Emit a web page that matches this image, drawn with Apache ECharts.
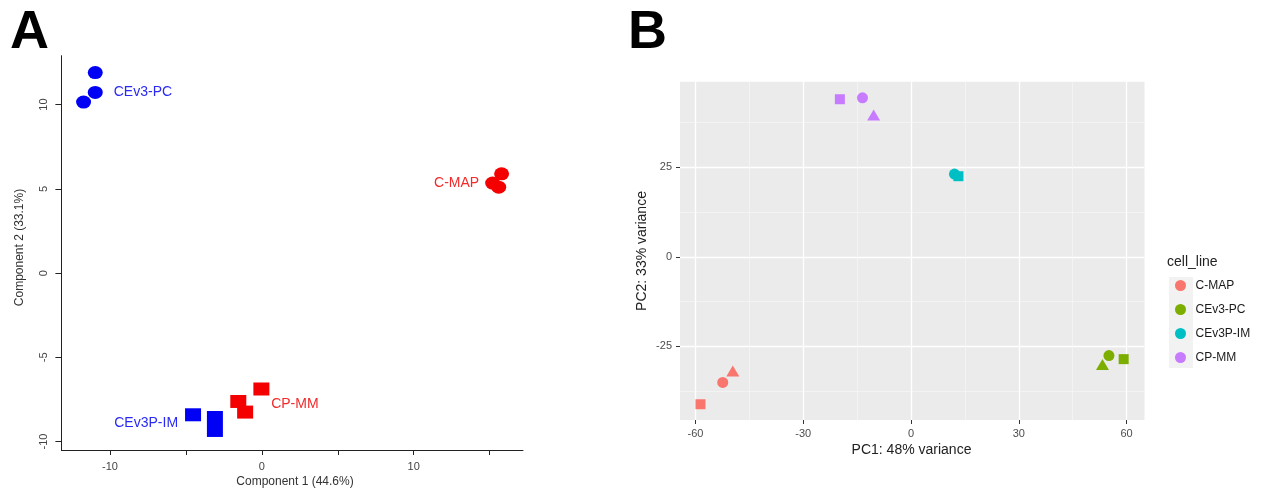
<!DOCTYPE html>
<html><head><meta charset="utf-8">
<script src="https://cdn.jsdelivr.net/npm/echarts@6/dist/echarts.min.js"></script>
<style>html,body{margin:0;padding:0;background:#fff}#c{width:1261px;height:489px}</style>
</head><body><div id="c"></div>
<script>
// ---------- Panel A data (Component 1 / Component 2) ----------
const aNames = ['CEv3-PC', 'C-MAP', 'CP-MM', 'CEv3P-IM'];
const aCevPcX = [-10.97, -10.97, -11.74];
const aCevPcY = [11.9, 10.72, 10.15];
const aCmapX = [15.79, 15.2, 15.6];
const aCmapY = [5.89, 5.34, 5.1];
const aCpmmX = [-0.03, -1.55, -1.1];
const aCpmmY = [-6.88, -7.62, -8.25];
const aCevPimX = [-4.53, -3.09, -3.09];
const aCevPimY = [-8.41, -8.57, -9.34];
const aXTicks = [-10, -5, 0, 5, 10, 15];
const aXLabels = [-10, 0, 10];
const aYTicks = [-10, -5, 0, 5, 10];

// ---------- Panel B data (PC1 / PC2) ----------
const bNames = ['C-MAP', 'CEv3-PC', 'CEv3P-IM', 'CP-MM'];
const bCmapX = [-58.6, -52.4, -49.6];
const bCmapY = [-41.2, -35.1, -31.9];
const bCmapShape = ['rect', 'circle', 'triangle'];
const bCevPcX = [55.1, 59.2, 53.3];
const bCevPcY = [-27.6, -28.6, -30.1];
const bCevPcShape = ['circle', 'rect', 'triangle'];
const bCevPimX = [12.1, 13.2];
const bCevPimY = [23.1, 22.5];
const bCevPimShape = ['circle', 'rect'];
const bCpmmX = [-19.8, -13.5, -10.4];
const bCpmmY = [44.0, 44.4, 39.6];
const bCpmmShape = ['rect', 'circle', 'triangle'];
const bXTicks = [-60, -30, 0, 30, 60];
const bXMinor = [-45, -15, 15, 45];
const bYTicks = [-25, 0, 25];
const bYMinor = [-37.5, -12.5, 12.5, 37.5];

const FONT = '"Liberation Sans", Arial, sans-serif';
const BLUE = '#0000F5', RED = '#F50000';
const bColors = ['#F8766D', '#7CAE00', '#00BFC4', '#C77CFF'];

function zip(xs, ys) { return xs.map((x, i) => [x, ys[i]]); }

// panel A series with a group label attached to one point
function aSeries(name, xs, ys, color, symbol, size, labelIdx, labelCfg) {
  const data = zip(xs, ys).map((v, i) => {
    const item = { value: v };
    if (i === labelIdx) {
      item.label = Object.assign({
        show: true, formatter: name, color: color,
        fontFamily: FONT, fontSize: 14
      }, labelCfg);
    }
    return item;
  });
  return {
    name: 'A ' + name, type: 'scatter', xAxisIndex: 0, yAxisIndex: 0,
    symbol: symbol, symbolSize: size, itemStyle: { color: color, opacity: 1 },
    data: data, silent: true
  };
}

function bSize(shape) {
  if (shape === 'circle') return 11;
  if (shape === 'rect') return 10;
  return [13, 11];
}
function bSeries(name, xs, ys, shapes, color) {
  return {
    name: name, type: 'scatter', xAxisIndex: 1, yAxisIndex: 1,
    symbol: 'circle',
    itemStyle: { color: color, opacity: 1 },
    data: zip(xs, ys).map((v, i) => ({ value: v, symbol: shapes[i], symbolSize: bSize(shapes[i]) })),
    silent: true
  };
}

const chart = echarts.init(document.getElementById('c'), null, { renderer: 'canvas' });

const axisA = '#222';
const option = {
  animation: false,
  backgroundColor: '#fff',
  textStyle: { fontFamily: FONT },
  grid: [
    { left: 61.4, top: 55.7, width: 461.6, height: 394.3, containLabel: false, outerBoundsMode: 'none' },
    { left: 680, top: 81.7, width: 464.5, height: 338.3, containLabel: false, outerBoundsMode: 'none',
      show: true, backgroundColor: '#EBEBEB', borderWidth: 0 }
  ],
  xAxis: [
    { type: 'value', gridIndex: 0, min: -13.2, max: 17.2,
      axisLine: { show: true, onZero: false, lineStyle: { color: axisA, width: 1 } },
      axisTick: { show: true, length: 5, customValues: aXTicks, lineStyle: { color: axisA } },
      axisLabel: { customValues: aXLabels, color: '#444', fontSize: 11, margin: 11, fontFamily: FONT },
      splitLine: { show: false } },
    { type: 'value', gridIndex: 1, min: -64.3, max: 65.0,
      axisLine: { show: false, onZero: false },
      axisTick: { show: true, length: 4, customValues: bXTicks, lineStyle: { color: '#333' } },
      axisLabel: { customValues: bXTicks, color: '#4D4D4D', fontSize: 11, margin: 8, fontFamily: FONT },
      splitLine: { show: true, lineStyle: { color: '#FFFFFF', width: 1.3 } } },
    { type: 'value', gridIndex: 1, min: -64.3, max: 65.0, position: 'top',
      axisLine: { show: false, onZero: false },
      axisTick: { show: false, customValues: bXMinor },
      axisLabel: { show: false, customValues: bXMinor },
      splitLine: { show: true, lineStyle: { color: '#F7F7F7', width: 0.7 } } }
  ],
  yAxis: [
    { type: 'value', gridIndex: 0, min: -10.5, max: 12.9,
      axisLine: { show: true, onZero: false, lineStyle: { color: axisA, width: 1 } },
      axisTick: { show: true, length: 6, customValues: aYTicks, lineStyle: { color: axisA } },
      axisLabel: { customValues: aYTicks, rotate: 90, color: '#444', fontSize: 11, margin: 12, fontFamily: FONT },
      splitLine: { show: false } },
    { type: 'value', gridIndex: 1, min: -45.6, max: 48.9,
      axisLine: { show: false, onZero: false },
      axisTick: { show: true, length: 4, customValues: bYTicks, lineStyle: { color: '#333' } },
      axisLabel: { customValues: bYTicks, color: '#4D4D4D', fontSize: 11, margin: 8, fontFamily: FONT },
      splitLine: { show: true, lineStyle: { color: '#FFFFFF', width: 1.3 } } },
    { type: 'value', gridIndex: 1, min: -45.6, max: 48.9, position: 'right',
      axisLine: { show: false, onZero: false },
      axisTick: { show: false, customValues: bYMinor },
      axisLabel: { show: false, customValues: bYMinor },
      splitLine: { show: true, lineStyle: { color: '#F7F7F7', width: 0.7 } } }
  ],
  legend: {
    data: bNames, orient: 'vertical', left: 1175, top: 279.5, padding: 0,
    itemWidth: 20, itemHeight: 11, itemGap: 12, icon: 'circle', selectedMode: false,
    textStyle: { color: '#1A1A1A', fontSize: 12, fontFamily: FONT, lineHeight: 11 }
  },
  graphic: [
    { type: 'rect', z: -1, shape: { x: 1169, y: 277, width: 24, height: 91 }, style: { fill: '#F2F2F2' } },
    { type: 'text', x: 10, y: 33, style: { text: 'A', fontSize: 54, fontWeight: 'bold', fontFamily: FONT, fill: '#000', align: 'left', verticalAlign: 'middle' } },
    { type: 'text', x: 628, y: 33, style: { text: 'B', fontSize: 54, fontWeight: 'bold', fontFamily: FONT, fill: '#000', align: 'left', verticalAlign: 'middle' } },
    { type: 'text', x: 295, y: 482, style: { text: 'Component 1 (44.6%)', fontSize: 12, fontFamily: FONT, fill: '#333', align: 'center', verticalAlign: 'middle' } },
    { type: 'text', x: 19.6, y: 247.5, rotation: Math.PI / 2, style: { text: 'Component 2 (33.1%)', fontSize: 12, fontFamily: FONT, fill: '#333', align: 'center', verticalAlign: 'middle' } },
    { type: 'text', x: 911.5, y: 450, style: { text: 'PC1: 48% variance', fontSize: 14, fontFamily: FONT, fill: '#222', align: 'center', verticalAlign: 'middle' } },
    { type: 'text', x: 642, y: 251, rotation: Math.PI / 2, style: { text: 'PC2: 33% variance', fontSize: 14, fontFamily: FONT, fill: '#222', align: 'center', verticalAlign: 'middle' } },
    { type: 'text', x: 1167, y: 262, style: { text: 'cell_line', fontSize: 14, fontFamily: FONT, fill: '#222', align: 'left', verticalAlign: 'middle' } }
  ],
  series: [
    aSeries(aNames[0], aCevPcX, aCevPcY, BLUE, 'circle', [15, 13], 1, { position: 'right', distance: 11, color: '#2A2AF2' }),
    aSeries(aNames[1], aCmapX, aCmapY, RED, 'circle', [15, 13], 1, { position: 'left', distance: 6, color: '#F22A2A' }),
    aSeries(aNames[2], aCpmmX, aCpmmY, RED, 'rect', [16, 13], 2, { position: 'right', distance: 18, offset: [0, -8], color: '#F22A2A' }),
    aSeries(aNames[3], aCevPimX, aCevPimY, BLUE, 'rect', [16, 13], 0, { position: 'left', distance: 7, offset: [0, 8], color: '#2A2AF2' }),
    bSeries(bNames[0], bCmapX, bCmapY, bCmapShape, bColors[0]),
    bSeries(bNames[1], bCevPcX, bCevPcY, bCevPcShape, bColors[1]),
    bSeries(bNames[2], bCevPimX, bCevPimY, bCevPimShape, bColors[2]),
    bSeries(bNames[3], bCpmmX, bCpmmY, bCpmmShape, bColors[3])
  ]
};
chart.setOption(option);
</script>
</body></html>
